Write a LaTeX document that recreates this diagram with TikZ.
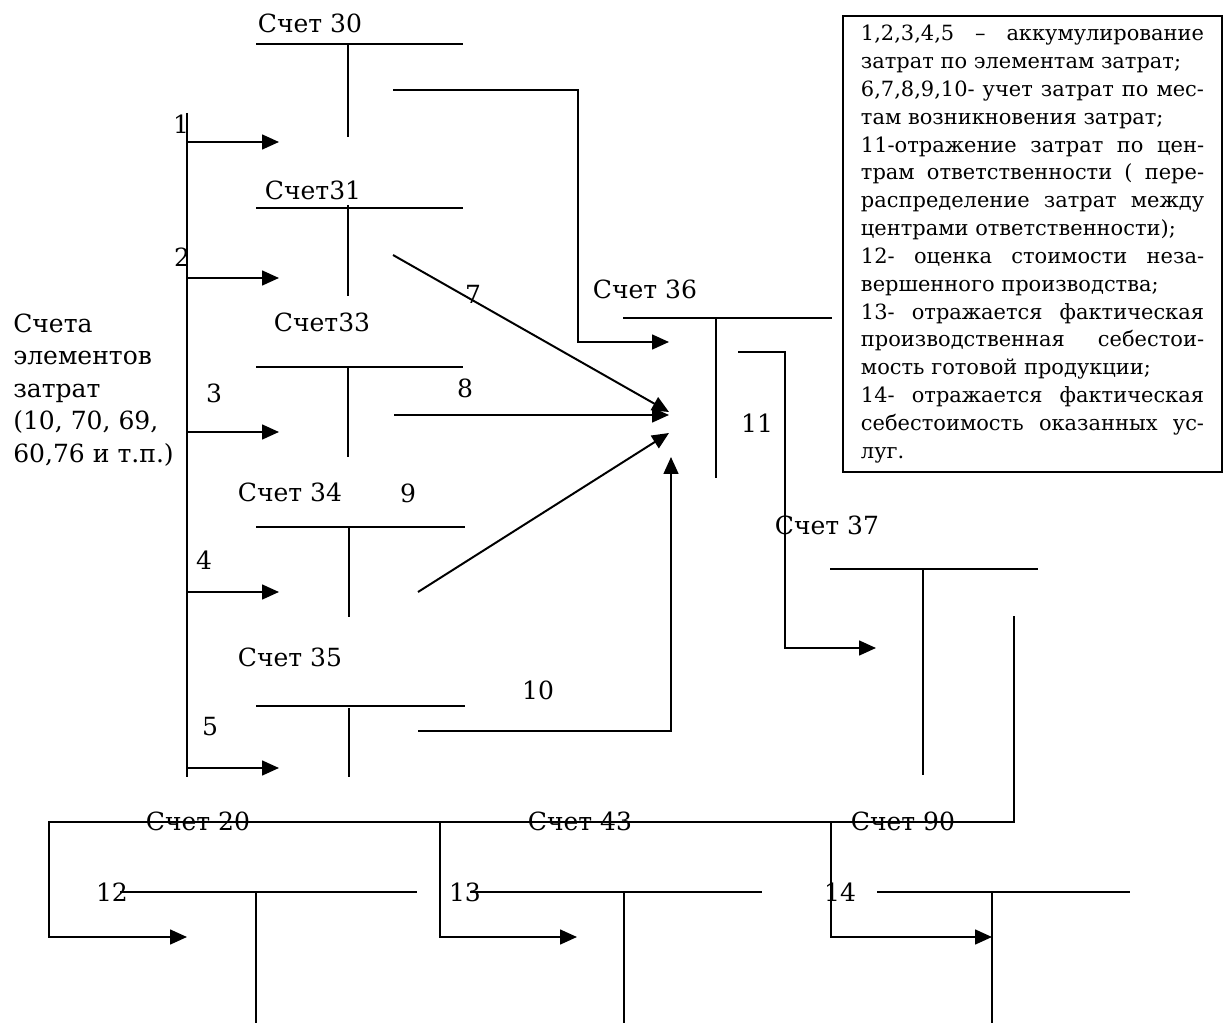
\documentclass[tikz,border=0pt]{standalone}
\usepackage{fontspec}
\setmainfont{DejaVu Serif}
\usetikzlibrary{arrows.meta}
\newcommand{\lblsize}{\fontsize{17.8pt}{23pt}\selectfont}
\newcommand{\notesize}{\fontsize{14.9pt}{19.8pt}\selectfont}
\setlength{\parindent}{0pt}

\begin{document}
\begin{tikzpicture}[
    x=0.025cm, y=-0.025cm,
    >={Triangle[length=12pt, width=10.5pt]},
    acct/.style={font=\lblsize, inner sep=0pt},
    tline/.style={line width=1.3pt},
    flow/.style={->, line width=1.4pt},
    note/.style={draw, line width=1.4pt, anchor=north west, font=\notesize, align=justify,
        text width=8.575cm, inner xsep=0.45cm, minimum height=11.4cm},
]
    \useasboundingbox (0,0) rectangle (1224,1023);

    % Element accounts
    \node[acct, align=left, anchor=west] (src) at (13,390) {Счета\\элементов\\затрат\\(10, 70, 69,\\60,76 и т.п.)};

    % Счет 30
    \node[acct] (acc30) at (310,23) {Счет 30};
    \draw[tline] (256,44) -- (463,44) (348,44) -- (348,137);

    % Счет 31
    \node[acct] (acc31) at (313,190) {Счет31};
    \draw[tline] (256,208) -- (463,208) (348,205) -- (348,296);

    % Счет 33
    \node[acct] (acc33) at (322,322) {Счет33};
    \draw[tline] (256,367) -- (463,367) (348,367) -- (348,457);

    % Счет 34
    \node[acct] (acc34) at (290,492) {Счет 34};
    \draw[tline] (256,527) -- (465,527) (349,527) -- (349,617);

    % Счет 35
    \node[acct] (acc35) at (290,657) {Счет 35};
    \draw[tline] (256,706) -- (465,706) (349,708) -- (349,777);

    % Счет 36
    \node[acct] (acc36) at (645,289) {Счет 36};
    \draw[tline] (623,318) -- (832,318) (716,318) -- (716,478);

    % Счет 37
    \node[acct] (acc37) at (827,525) {Счет 37};
    \draw[tline] (830,569) -- (1038,569) (923,569) -- (923,775);

    % Счет 20, 43, 90
    \node[acct] (acc20) at (198,821) {Счет 20};
    \draw[tline] (120,892) -- (417,892) (256,892) -- (256,1023);
    \node[acct] (acc43) at (580,821) {Счет 43};
    \draw[tline] (470,892) -- (762,892) (624,892) -- (624,1023);
    \node[acct] (acc90) at (903,821) {Счет 90};
    \draw[tline] (877,892) -- (1130,892) (992,892) -- (992,1023);

    % Flows 1-5 from the element accounts
    \coordinate (trunktop) at (187,113);
    \coordinate (trunkbot) at (187,777);
    \draw[flow, -] (trunktop) -- (trunkbot);
    \foreach \y/\n in {142/1, 278/2, 432/3, 592/4, 768/5} {
        \coordinate (from\n) at (187,\y);
        \coordinate (to\n) at (279,\y);
        \draw[flow] (from\n) -- (to\n);
    }
    \node[acct] (n1) at (181,124) {1};
    \node[acct] (n2) at (182,257) {2};
    \node[acct] (n3) at (214,393) {3};
    \node[acct] (n4) at (204,560) {4};
    \node[acct] (n5) at (210,727) {5};

    % Flows 6-10 into Счет 36
    \coordinate (out30) at (393,90);
    \coordinate (bend30) at (578,342);
    \coordinate (in30) at (669,342);
    \draw[flow] (out30) -| (bend30) -- (in30);
    \coordinate (out31) at (393,255);
    \coordinate (in31) at (669,412);
    \draw[flow] (out31) -- (in31);
    \coordinate (out33) at (394,415);
    \coordinate (in33) at (669,415);
    \draw[flow] (out33) -- (in33);
    \coordinate (out34) at (418,592);
    \coordinate (in34) at (669,433);
    \draw[flow] (out34) -- (in34);
    \coordinate (out35) at (418,731);
    \coordinate (in35) at (671,457);
    \draw[flow] (out35) -| (in35);
    \node[acct] (n7) at (473,294) {7};
    \node[acct] (n8) at (465,388) {8};
    \node[acct] (n9) at (408,493) {9};
    \node[acct] (n10) at (538,690) {10};

    % Flow 11 into Счет 37
    \coordinate (out36) at (738,352);
    \coordinate (bend36) at (785,648);
    \coordinate (in37) at (876,648);
    \draw[flow] (out36) -| (bend36) -- (in37);
    \node[acct] (n11) at (757,423) {11};

    % Flows 12-14
    \coordinate (out37) at (1014,616);
    \coordinate (corner20) at (49,822);
    \coordinate (in20) at (187,937);
    \draw[flow] (out37) |- (corner20) |- (in20);
    \coordinate (corner43) at (440,822);
    \coordinate (in43) at (577,937);
    \draw[flow] (corner43) |- (in43);
    \coordinate (corner90) at (831,822);
    \coordinate (in90) at (992,937);
    \draw[flow] (corner90) |- (in90);
    \node[acct] (n12) at (112,892) {12};
    \node[acct] (n13) at (465,892) {13};
    \node[acct] (n14) at (840,892) {14};

    % Legend
    \node[note] (legend) at (842,15) {1,2,3,4,5 – аккумулирование\linebreak затрат по элементам затрат;\par
        6,7,8,9,10- учет затрат по мес-\linebreak там возникновения затрат;\par
        11-отражение затрат по цен-\linebreak трам ответственности ( пере-\linebreak распределение затрат между\linebreak центрами ответственности);\par
        12- оценка стоимости неза-\linebreak вершенного производства;\par
        13- отражается фактическая\linebreak производственная себестои-\linebreak мость готовой продукции;\par
        14- отражается фактическая\linebreak себестоимость оказанных ус-\linebreak луг.};
\end{tikzpicture}
\end{document}
